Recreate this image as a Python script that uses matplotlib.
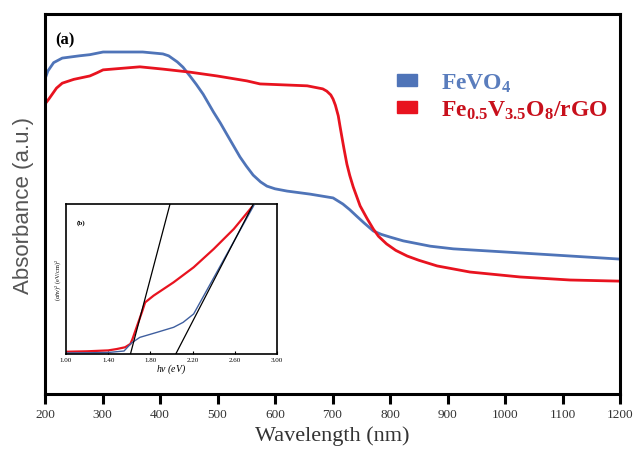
import matplotlib.pyplot as plt
from matplotlib.patches import Patch

plt.rcParams['font.family'] = 'Liberation Serif'
plt.rcParams['mathtext.fontset'] = 'custom'
plt.rcParams['mathtext.rm'] = 'Liberation Serif'
plt.rcParams['mathtext.it'] = 'Liberation Serif:italic'
plt.rcParams['mathtext.bf'] = 'Liberation Serif:bold'

# main spectra (wavelength in nm, absorbance in a.u.)
wl_fevo4 = [200, 205, 215, 230, 260, 278, 301, 370, 405, 415, 430, 440, 452, 463,
            475, 493, 505, 516, 539, 550, 562, 575, 586, 600, 621, 661, 701, 718,
            730, 742, 755, 771, 785, 800, 823, 870, 910, 997, 1083, 1200]
abs_fevo4 = [0.829, 0.850, 0.872, 0.884, 0.890, 0.893, 0.900, 0.900, 0.895, 0.890,
             0.874, 0.860, 0.837, 0.815, 0.789, 0.742, 0.713, 0.684, 0.624, 0.600,
             0.576, 0.558, 0.547, 0.540, 0.534, 0.526, 0.516, 0.500, 0.485, 0.468,
             0.450, 0.429, 0.420, 0.413, 0.403, 0.389, 0.382, 0.374, 0.366, 0.355]

wl_rgo = [200, 207, 220, 230, 250, 278, 290, 301, 365, 405, 452, 499, 551, 574,
          656, 683, 690, 697, 701, 705, 710, 713, 716, 720, 725, 730, 736, 742,
          748, 760, 771, 780, 794, 810, 830, 850, 882, 939, 1026, 1113, 1200]
abs_rgo = [0.763, 0.777, 0.805, 0.818, 0.828, 0.837, 0.845, 0.853, 0.861, 0.855,
           0.847, 0.837, 0.824, 0.816, 0.811, 0.803, 0.797, 0.787, 0.776, 0.760,
           0.732, 0.705, 0.679, 0.645, 0.605, 0.575, 0.545, 0.520, 0.495, 0.462,
           0.434, 0.415, 0.395, 0.378, 0.363, 0.352, 0.337, 0.321, 0.308, 0.300,
           0.297]

# inset Tauc plot
ev_fevo4 = [1.00, 1.20, 1.40, 1.55, 1.62, 1.70, 1.86, 2.02, 2.11, 2.21, 2.78]
tauc_fevo4 = [0.007, 0.008, 0.010, 0.020, 0.073, 0.111, 0.144, 0.178, 0.211, 0.267, 0.99]

ev_rgo = [1.00, 1.20, 1.40, 1.48, 1.56, 1.61, 1.63, 1.68, 1.72, 1.75, 1.83, 2.02,
          2.21, 2.40, 2.59, 2.76]
tauc_rgo = [0.015, 0.018, 0.024, 0.033, 0.045, 0.067, 0.10, 0.20, 0.28, 0.344,
            0.389, 0.478, 0.578, 0.70, 0.833, 0.978]

fit1_x = [1.607, 1.986]
fit1_y = [-0.01, 1.0]
fit2_x = [2.033, 2.776]
fit2_y = [-0.01, 1.0]

blue = '#4f74b8'
red = '#e8131f'

fig = plt.figure(figsize=(6.33, 4.52), dpi=100)
ax = fig.add_axes([0.0711, 0.1261, 0.9084, 0.8407])
ax.plot(wl_fevo4, abs_fevo4, color=blue, lw=2.0)
ax.plot(wl_rgo, abs_rgo, color=red, lw=2.0)
ax.set_xlim(200, 1200)
ax.set_ylim(0, 1)
ax.set_xticks(range(200, 1201, 100))
ax.set_yticks([])
ax.tick_params(axis='x', direction='out', length=7, width=2.2, labelsize=9.5,
               pad=3, labelcolor='#333333')
for s in ax.spines.values():
    s.set_linewidth(2.2)
ax.set_xlabel('Wavelength (nm)', fontsize=16, labelpad=4, color='#333333')
ax.set_ylabel('Absorbance (a.u.)', fontsize=16, labelpad=8, color='#555555',
              family='Liberation Sans')
ax.text(0.018, 0.955, '(a)', transform=ax.transAxes, fontsize=12,
        fontweight='bold', va='top')

handles = [Patch(color=blue), Patch(color=red)]
labels = [r'$\mathbf{FeVO_4}$', r'$\mathbf{Fe_{0.5}V_{3.5}O_8/rGO}$']
leg = ax.legend(handles, labels, loc='upper left', bbox_to_anchor=(0.575, 0.905),
                frameon=False, prop={'size': 17, 'weight': 'bold'},
                handlelength=0.85, handleheight=0.45, handletextpad=1.0,
                labelspacing=0.2)
leg.get_texts()[0].set_color('#5a7dbd')
leg.get_texts()[1].set_color('#c8101c')

# inset
ins = fig.add_axes([0.1043, 0.2146, 0.3333, 0.3319])
ins.plot(ev_rgo, tauc_rgo, color=red, lw=1.6)
ins.plot(ev_fevo4, tauc_fevo4, color='#3f5f9f', lw=1.0)
ins.plot(fit1_x, fit1_y, color='black', lw=0.9)
ins.plot(fit2_x, fit2_y, color='black', lw=0.9)
ins.set_xlim(1.0, 3.0)
ins.set_ylim(0, 1)
ins.set_xticks([1.0, 1.4, 1.8, 2.2, 2.6, 3.0])
ins.set_xticklabels(['1.00', '1.40', '1.80', '2.20', '2.60', '3.00'])
ins.set_yticks([])
ins.tick_params(axis='x', direction='in', length=2, width=0.8, labelsize=5, pad=2)
for s in ins.spines.values():
    s.set_linewidth(1.2)
ins.set_xlabel(r'$h\nu$ (eV)', fontsize=7, style='italic', labelpad=0)
ins.set_ylabel(r'$(\alpha h\nu)^2$ (eV/cm)$^2$', fontsize=4.5, labelpad=2)
ins.text(0.05, 0.9, '(b)', transform=ins.transAxes, fontsize=5,
         fontweight='bold', va='top')

fig.savefig('out.png', dpi=100)
